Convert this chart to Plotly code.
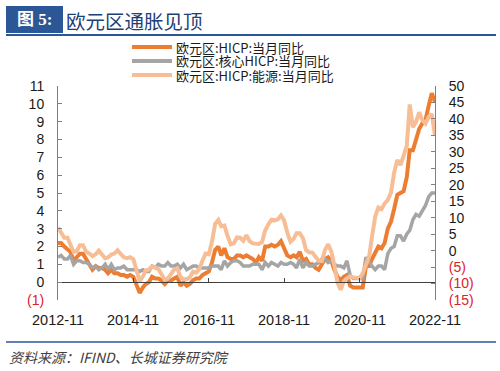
import pandas as pd
import plotly.graph_objects as go

# ---------------- data ----------------
start_month = "2012-11-01"
n_months = 121

hicp = [
    2.2, 2.2,
    2.0, 1.8, 1.7, 1.2, 1.4, 1.6, 1.6, 1.3, 1.1, 0.7, 0.9, 0.8,
    0.8, 0.7, 0.5, 0.7, 0.5, 0.5, 0.4, 0.4, 0.3, 0.4, 0.3, -0.2,
    -0.6, -0.3, -0.1, 0.0, 0.3, 0.2, 0.2, 0.1, -0.1, 0.1, 0.1, 0.2,
    0.3, -0.2, 0.0, -0.2, -0.1, 0.1, 0.2, 0.2, 0.4, 0.5, 0.6, 1.1,
    1.8, 2.0, 1.5, 1.9, 1.4, 1.3, 1.3, 1.5, 1.5, 1.4, 1.5, 1.4,
    1.3, 1.1, 1.4, 1.2, 2.0, 2.0, 2.1, 2.0, 2.1, 2.3, 1.9, 1.5,
    1.4, 1.5, 1.4, 1.7, 1.2, 1.3, 1.0, 1.0, 0.8, 0.7, 1.0, 1.3,
    1.4, 1.2, 0.7, 0.3, 0.1, 0.3, 0.4, -0.2, -0.3, -0.3, -0.3, -0.3,
    0.9, 0.9, 1.3, 1.6, 2.0, 1.9, 2.2, 3.0, 3.4, 4.1, 4.9, 5.0,
    5.1, 5.9, 7.4, 7.4, 8.1, 8.6, 8.9, 9.1, 9.9, 10.6, 10.1,
]

core = [
    1.4, 1.5,
    1.3, 1.3, 1.5, 1.0, 1.2, 1.2, 1.1, 1.1, 1.0, 0.8, 0.9, 0.7,
    0.8, 1.0, 0.7, 1.0, 0.7, 0.8, 0.8, 0.9, 0.7, 0.7, 0.7, 0.7,
    0.6, 0.7, 0.6, 0.6, 0.9, 0.8, 1.0, 0.9, 0.9, 1.1, 0.9, 0.9,
    1.0, 0.8, 1.0, 0.7, 0.8, 0.9, 0.9, 0.8, 0.8, 0.8, 0.8, 0.9,
    0.9, 0.9, 0.7, 1.2, 0.9, 1.1, 1.2, 1.2, 1.1, 0.9, 0.9, 0.9,
    1.0, 1.0, 1.0, 0.7, 1.1, 0.9, 1.1, 1.0, 0.9, 1.1, 1.0, 1.0,
    1.1, 1.0, 0.8, 1.3, 0.8, 1.1, 0.9, 0.9, 1.0, 1.1, 1.3, 1.3,
    1.1, 1.2, 1.0, 0.9, 0.9, 0.8, 1.2, 0.4, 0.2, 0.2, 0.2, 0.2,
    1.4, 1.1, 0.9, 0.7, 0.9, 0.9, 0.7, 1.6, 1.9, 2.0, 2.6, 2.6,
    2.3, 2.7, 2.9, 3.5, 3.8, 3.7, 4.0, 4.3, 4.8, 5.0, 5.0,
]

energy = [
    7.0, 5.2,
    3.9, 3.9, 1.7, -0.4, -0.2, 1.6, 1.6, -0.3, -0.9, -1.7, -1.1, 0.0,
    -1.2, -2.3, -2.1, -1.2, -0.9, 0.1, -1.0, -2.0, -2.3, -2.0, -2.6, -6.3,
    -9.3, -7.9, -6.0, -5.8, -4.8, -5.1, -5.6, -7.2, -8.9, -8.5, -7.3, -5.8,
    -5.4, -8.1, -8.7, -8.7, -8.1, -6.4, -6.7, -5.6, -3.0, -0.9, -1.1, 2.6,
    8.1, 9.3, 7.4, 7.6, 4.5, 1.9, 2.2, 4.0, 3.9, 3.0, 4.7, 2.9,
    2.2, 2.1, 2.0, 2.6, 6.1, 8.0, 9.4, 9.2, 9.5, 10.7, 9.1, 5.5,
    2.7, 3.6, 5.3, 5.3, 3.8, 0.2, -0.5, -0.6, -1.8, -3.1, -3.2, 0.2,
    1.9, -0.3, -4.5, -9.7, -11.9, -9.3, -8.4, -7.8, -8.2, -8.2, -8.3, -6.9,
    -4.2, -1.7, 4.3, 10.4, 13.1, 12.6, 14.3, 15.4, 17.6, 23.7, 27.5, 26.0,
    28.8, 32.0, 44.4, 37.5, 39.1, 42.0, 39.6, 38.6, 40.7, 41.5, 34.9,
]

series_names = ["欧元区:HICP:当月同比", "欧元区:核心HICP:当月同比", "欧元区:HICP:能源:当月同比"]
x_tick_labels = ["2012-11", "2014-11", "2016-11", "2018-11", "2020-11", "2022-11"]
left_ticks = list(range(-1, 12))
right_ticks = list(range(-15, 51, 5))

title_tag = "图 5:"
title_text = "欧元区通胀见顶"
source_text = "资料来源：IFIND、长城证券研究院"

# ---------------- styling ----------------
colors = ["#ED7D31", "#A5A5A5", "#F7BE95"]
widths = [4, 3.5, 4]
RED = "#E0202A"
TXT = "#1a1a1a"
NUM_FONT = "Liberation Sans, Arial, sans-serif"
CJK_FONT = "Noto Sans CJK SC, sans-serif"

dates = pd.date_range(start_month, periods=n_months, freq="MS")
x_tick_vals = [pd.Timestamp(s + "-01") for s in x_tick_labels]

# plot area in pixels
L, R, T, B = 58, 435, 86, 300
W, H = R - L, B - T


def px(x):
    return (x - L) / W


def py(y):
    return (B - y) / H


def lbl(v):
    if v < 0:
        return f"<span style='color:{RED}'>({abs(v)})</span>"
    return str(v)


fig = go.Figure()
fig.add_trace(go.Scatter(x=dates, y=hicp, mode="lines", name=series_names[0],
                         line=dict(color=colors[0], width=widths[0]), yaxis="y"))
fig.add_trace(go.Scatter(x=dates, y=core, mode="lines", name=series_names[1],
                         line=dict(color=colors[1], width=widths[1]), yaxis="y"))
fig.add_trace(go.Scatter(x=dates, y=energy, mode="lines", name=series_names[2],
                         line=dict(color=colors[2], width=widths[2]), yaxis="y2"))

x_range = [dates[0], dates[-1]]

fig.update_layout(
    width=500, height=371,
    margin=dict(l=L, r=500 - R, t=T, b=371 - B, autoexpand=False),
    paper_bgcolor="white", plot_bgcolor="white",
    showlegend=False,
    xaxis=dict(type="date", range=x_range, anchor="free", position=1 / 12,
               showline=True, linecolor="#404040", linewidth=1,
               ticks="inside", ticklen=4, tickcolor="#404040",
               tickvals=x_tick_vals, showticklabels=False,
               showgrid=False, zeroline=False),
    yaxis=dict(range=[-1, 11], tickvals=left_ticks, ticktext=[lbl(v) for v in left_ticks],
               showline=True, linecolor="#808080", linewidth=1,
               ticks="inside", ticklen=4, tickcolor="#808080",
               tickfont=dict(family=NUM_FONT, size=14, color=TXT),
               ticklabelstandoff=10,
               showgrid=False, zeroline=False),
    yaxis2=dict(range=[-15, 50], overlaying="y", side="right", anchor="x",
                tickvals=right_ticks, ticktext=[lbl(v) for v in right_ticks],
                showline=True, linecolor="#808080", linewidth=1,
                ticks="inside", ticklen=4, tickcolor="#808080",
                tickfont=dict(family=NUM_FONT, size=14, color=TXT),
                ticklabelstandoff=10,
                showgrid=False, zeroline=False),
)

shapes = []
# title box and rules
shapes.append(dict(type="rect", xref="paper", yref="paper",
                   x0=px(6), x1=px(63), y0=py(33), y1=py(6),
                   fillcolor="#2B5797", line=dict(width=0), layer="above"))
shapes.append(dict(type="line", xref="paper", yref="paper",
                   x0=px(6), x1=px(496), y0=py(35), y1=py(35),
                   line=dict(color="#2B5797", width=2)))
shapes.append(dict(type="line", xref="paper", yref="paper",
                   x0=px(6), x1=px(496), y0=py(342), y1=py(342),
                   line=dict(color="#2B5797", width=1.5)))
# legend samples
leg_y = [47, 61, 75]
for c, yy in zip(colors, leg_y):
    shapes.append(dict(type="line", xref="paper", yref="paper",
                       x0=px(132), x1=px(172), y0=py(yy), y1=py(yy),
                       line=dict(color=c, width=4)))
fig.update_layout(shapes=shapes)

ann = []
ann.append(dict(xref="paper", yref="paper", x=px(34.5), y=py(19.5), text=f"<b>{title_tag}</b>",
                showarrow=False, xanchor="center", yanchor="middle",
                font=dict(family="Liberation Serif, Noto Sans CJK SC, serif", size=17, color="white")))
ann.append(dict(xref="paper", yref="paper", x=px(64), y=py(20), text=title_text,
                showarrow=False, xanchor="left", yanchor="middle",
                font=dict(family=CJK_FONT, size=19.5, color="#1F3F77")))
for name, yy in zip(series_names, leg_y):
    ann.append(dict(xref="paper", yref="paper", x=px(174), y=py(yy), text=name,
                    showarrow=False, xanchor="left", yanchor="middle",
                    font=dict(family=CJK_FONT, size=13, color=TXT)))
# x tick labels placed on the date scale
for tv, tl in zip(x_tick_vals, x_tick_labels):
    ann.append(dict(xref="x", yref="paper", x=tv, y=py(320), text=tl,
                    showarrow=False, xanchor="center", yanchor="middle",
                    font=dict(family=NUM_FONT, size=14.5, color=TXT)))
ann.append(dict(xref="paper", yref="paper", x=px(7), y=py(357), text=f"<i>{source_text}</i>",
                showarrow=False, xanchor="left", yanchor="middle",
                font=dict(family=CJK_FONT, size=14, color="#404040")))
fig.update_layout(annotations=ann)

fig.write_html("out.html", config={"displayModeBar": False},
               post_script="document.body.style.margin='0';document.body.style.padding='0';")
